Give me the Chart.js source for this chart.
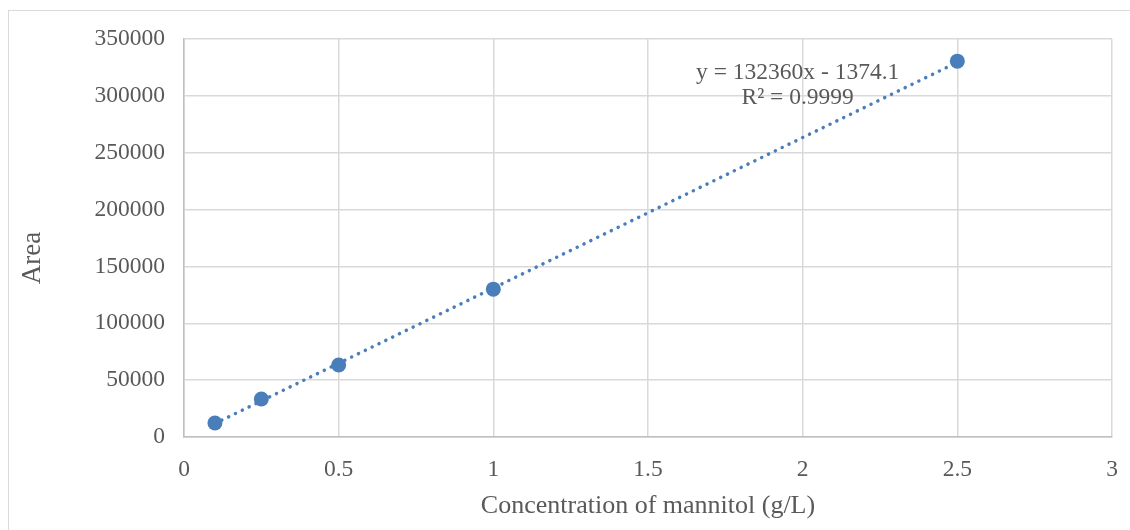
<!DOCTYPE html>
<html>
<head>
<meta charset="utf-8">
<script src="https://cdn.jsdelivr.net/npm/chart.js@4/dist/chart.umd.min.js"></script>
<style>
  body { margin: 0; background: #fff; }
  #wrap { position: relative; width: 1130px; height: 530px; }
  #frame { position: absolute; left: 8px; top: 10px; width: 1140px; height: 540px; border: 1px solid #d9d9d9; box-sizing: border-box; }
  canvas { position: absolute; left: 0; top: 0; }
</style>
</head>
<body>
<div id="wrap">
  <div id="frame"></div>
  <canvas id="chart1" width="1130" height="530"></canvas>
</div>
<script>
// mannitol standards
var concentration = [0.1, 0.25, 0.5, 1, 2.5]
var area = [12300, 33400, 63300, 130000, 330500]

// linear fit shown on the chart
var slope = 132360
var intercept = -1374.1
var rSquared = '0.9999'

var points = []
for (var i = 0; i < concentration.length; i++){
  points.push({x: concentration[i], y: area[i]})
}
var xFirst = concentration[0]
var xLast = concentration[concentration.length - 1]
var fitLine = [
  {x: xFirst, y: slope * xFirst + intercept},
  {x: xLast, y: slope * xLast + intercept}
]

var blue = '#4a7ebb'
var textGrey = '#595959'

// equation text near the top of the fit line, plus the y axis title
var chartText = {
  id: 'chartText',
  afterDatasetsDraw(chart){
    var ctx = chart.ctx
    var xs = chart.scales.x
    var ys = chart.scales.y
    var cx = xs.getPixelForValue(2.0) - 5
    var cy = ys.getPixelForValue(320000)
    ctx.save()
    ctx.font = '23.5px "Liberation Serif"'
    ctx.fillStyle = textGrey
    ctx.textAlign = 'center'
    ctx.textBaseline = 'middle'
    ctx.fillText('y = ' + slope + 'x - ' + Math.abs(intercept), cx, cy)
    ctx.fillText('R² = ' + rSquared, cx, cy + 25)

    // Area title sits a little below the middle of the axis
    ctx.translate(33, (chart.chartArea.top + chart.chartArea.bottom) / 2 + 20)
    ctx.rotate(-Math.PI / 2)
    ctx.font = '27px "Liberation Serif"'
    ctx.fillText('Area', 0, 0)
    ctx.restore()
  }
}

const ctx = document.getElementById('chart1');
new Chart(ctx, {
  type: 'scatter',
  data: {
    datasets: [{
      data: points,
      pointRadius: 7.5,
      pointHoverRadius: 7.5,
      backgroundColor: blue,
      borderColor: blue,
      borderWidth: 0
    }, {
      type: 'line',
      data: fitLine,
      pointRadius: 0,
      borderColor: blue,
      borderWidth: 3.5,
      borderDash: [0.1, 7.5],
      borderCapStyle: 'round',
      fill: false
    }]
  },
  plugins: [chartText],
  options: {
    responsive: false,
    animation: false,
    layout: {padding: {top: 39, right: 18, left: 17, bottom: 8}},
    plugins: {legend: {display: false}, tooltip: {enabled: false}},
    scales: {
      x: {
        type: 'linear',
        min: 0,
        max: 3,
        ticks: {stepSize: 0.5, padding: 19, color: textGrey, font: {family: 'Liberation Serif', size: 23.5},
          callback: function(v){ return String(v) }},
        grid: {color: '#d9d9d9', lineWidth: 1.5, drawTicks: false},
        border: {color: '#bfbfbf', width: 1.5},
        title: {display: true, text: 'Concentration of mannitol (g/L)', color: textGrey,
          font: {family: 'Liberation Serif', size: 26}, padding: {top: 0, bottom: 0}},
        afterFit(scale){
          scale.height = 85
          scale.paddingRight = 0
        }
      },
      y: {
        min: 0,
        max: 350000,
        ticks: {stepSize: 50000, padding: 19, color: textGrey, font: {family: 'Liberation Serif', size: 23.5},
          callback: function(v){ return String(v) }},
        grid: {color: '#d9d9d9', lineWidth: 1.5, drawTicks: false},
        border: {color: '#bfbfbf', width: 1.5},
        afterFit(scale){ scale.width = 167 }
      }
    }
  }
});
</script>
</body>
</html>
